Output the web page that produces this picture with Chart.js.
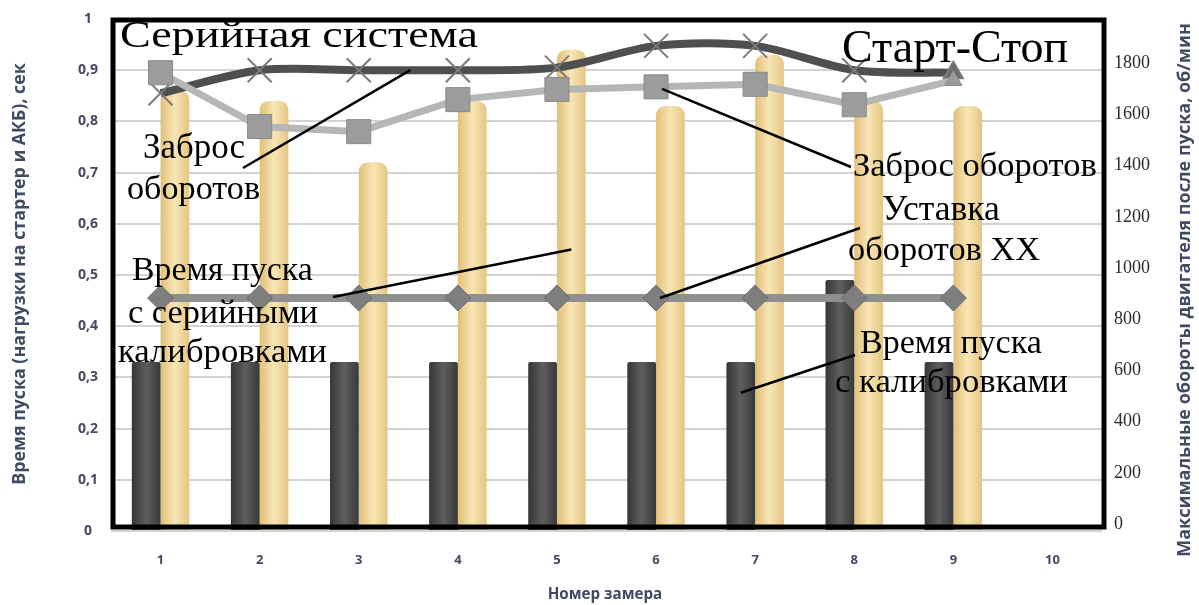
<!DOCTYPE html>
<html>
<head>
<meta charset="utf-8">
<script src="https://cdn.jsdelivr.net/npm/chart.js"></script>
<style>
  html, body { margin: 0; padding: 0; background: #fff; }
  #chart { display: block; }
</style>
</head>
<body>
<canvas id="chart" width="1199" height="605"></canvas>
<script>
// ===== Данные
const categories = ['1', '2', '3', '4', '5', '6', '7', '8', '9', '10'];

// время пуска, с (левая ось)
const timeCalibrated = [0.33, 0.33, 0.33, 0.33, 0.33, 0.33, 0.33, 0.49, 0.33, null];
const timeSerial     = [0.86, 0.84, 0.72, 0.84, 0.94, 0.83, 0.93, 0.84, 0.83, null];

// обороты, об/мин (правая ось)
const revsSerial    = [1710, 1800, 1800, 1800, 1810, 1895, 1895, 1800, 1790, null];
const revsStartStop = [1790, 1580, 1560, 1685, 1725, 1735, 1745, 1665, 1760, null];
const idleSetpoint  = [910, 910, 910, 910, 910, 910, 910, 910, 910, null];

// подписи шкал
const leftTicks       = [0, 0.1, 0.2, 0.3, 0.4, 0.5, 0.6, 0.7, 0.8, 0.9, 1];
const leftTickLabels  = ['0', '0,1', '0,2', '0,3', '0,4', '0,5', '0,6', '0,7', '0,8', '0,9', '1'];
const rightTicks      = [0, 200, 400, 600, 800, 1000, 1200, 1400, 1600, 1800];
const rightTickLabels = ['0', '200', '400', '600', '800', '1000', '1200', '1400', '1600', '1800'];

const CAT_PCT = 0.58;
const SANS  = '"Open Sans", "DejaVu Sans", sans-serif';
const SERIF = '"Liberation Serif", "DejaVu Serif", serif';
const AXIS_TXT = '#404a63';

// градиент по ширине столбца (side -1 = левый столбец пары, +1 = правый)
function barFill(stops, side) {
  return c => {
    const chart = c.chart, x = chart.scales.x;
    if (!x || c.dataIndex === undefined) return stops[1];
    const w = x.width / categories.length * CAT_PCT / 2;
    const cx = x.getPixelForValue(c.dataIndex);
    if (!isFinite(w) || !isFinite(cx) || w <= 0) return stops[1];
    const x0 = side < 0 ? cx - w : cx;
    const g = chart.ctx.createLinearGradient(x0, 0, x0 + w, 0);
    g.addColorStop(0, stops[0]);
    g.addColorStop(0.5, stops[1]);
    g.addColorStop(1, stops[2]);
    return g;
  };
}

// подгоняет кегль под нужную ширину строки
function fitFont(ctx, text, width, weight, family) {
  ctx.font = `${weight} 100px ${family}`;
  const size = 100 * width / ctx.measureText(text).width;
  return `${weight} ${size.toFixed(1)}px ${family}`;
}

// ===== Подписи-выноски поверх графика (size — если текст сжат по высоте)
const notes = [
  { text: 'Серийная система', x: 120, y: 47,  w: 358, size: 38 },
  { text: 'Старт-Стоп',       x: 842, y: 62,  w: 226 },
  { text: 'Заброс',           x: 143, y: 158, w: 102 },
  { text: 'оборотов',         x: 127, y: 199, w: 133 },
  { text: 'Заброс оборотов',  x: 853, y: 176, w: 244 },
  { text: 'Уставка',          x: 882, y: 220, w: 118 },
  { text: 'оборотов XX',      x: 848, y: 260, w: 192 },
  { text: 'Время пуска',      x: 132, y: 280, w: 181 },
  { text: 'с серийными',      x: 128, y: 323, w: 190 },
  { text: 'калибровками',     x: 118, y: 362, w: 209 },
  { text: 'Время пуска',      x: 860, y: 353, w: 182 },
  { text: 'с калибровками',   x: 835, y: 392, w: 233 }
];

const framePlugin = {
  id: 'frame',
  afterDatasetsDraw(chart) {
    const { ctx, chartArea: a } = chart;
    ctx.save();
    ctx.strokeStyle = '#000';
    ctx.lineWidth = 5;
    ctx.strokeRect(a.left + 2, a.top + 1, a.right - a.left, a.bottom - a.top - 5);
    ctx.restore();
  }
};

const notesPlugin = {
  id: 'notes',
  afterDraw(chart) {
    const { ctx, scales } = chart;
    const dark  = chart.getDatasetMeta(0).data;
    const tan   = chart.getDatasetMeta(1).data;
    const lIdle = chart.getDatasetMeta(2).data;
    const lSS   = chart.getDatasetMeta(3).data;
    const lSer  = chart.getDatasetMeta(4).data;

    // выноски
    const t = 0.52;
    const leaders = [
      [243, 168, lSer[2].x + t * (lSer[3].x - lSer[2].x), lSer[2].y + t * (lSer[3].y - lSer[2].y)],
      [851, 167, lSS[5].x + 6, lSS[5].y + 2],
      [860, 228, lIdle[5].x + 4, lIdle[5].y],
      [333, 297, tan[4].x, scales.y.getPixelForValue(0.55)],
      [855, 355, dark[6].x, scales.y.getPixelForValue(0.27)]
    ];
    ctx.save();
    ctx.strokeStyle = '#000';
    ctx.lineWidth = 2.5;
    leaders.forEach(([x1, y1, x2, y2]) => {
      ctx.beginPath();
      ctx.moveTo(x1, y1);
      ctx.lineTo(x2, y2);
      ctx.stroke();
    });

    ctx.fillStyle = '#000';
    ctx.textAlign = 'left';
    ctx.textBaseline = 'alphabetic';
    notes.forEach(n => {
      if (n.size) {
        ctx.font = `normal ${n.size}px ${SERIF}`;
        const k = n.w / ctx.measureText(n.text).width;
        ctx.save();
        ctx.translate(n.x, n.y);
        ctx.scale(k, 1);
        ctx.fillText(n.text, 0, 0);
        ctx.restore();
      } else {
        ctx.font = fitFont(ctx, n.text, n.w, 'normal', SERIF);
        ctx.fillText(n.text, n.x, n.y);
      }
    });

    // заголовки осей
    const axisTitle = (text, cx, cy, w, rot) => {
      ctx.save();
      ctx.translate(cx, cy);
      ctx.rotate(rot);
      ctx.font = fitFont(ctx, text, w, 'bold', SANS);
      ctx.fillStyle = AXIS_TXT;
      ctx.textAlign = 'center';
      ctx.textBaseline = 'middle';
      ctx.fillText(text, 0, 0);
      ctx.restore();
    };
    axisTitle('Время пуска (нагрузки на стартер и АКБ), сек', 20, 274, 422, -Math.PI / 2);
    axisTitle('Максимальные обороты двигателя после пуска, об/мин', 1185, 290, 534, -Math.PI / 2);
    axisTitle('Номер замера', 605, 595, 115, 0);
    ctx.restore();
  }
};

// убирает запас под подписи, чтобы область построения задавалась только layout.padding
const noPad = s => { s.paddingTop = 0; s.paddingBottom = 0; };

new Chart(document.getElementById('chart'), {
  data: {
    labels: categories,
    datasets: [
      {
        type: 'bar',
        label: 'Время пуска с калибровками',
        data: timeCalibrated,
        yAxisID: 'y',
        order: 10,
        backgroundColor: barFill(['#363636', '#5e5e5e', '#383838'], -1),
        borderRadius: 2,
        borderSkipped: 'bottom',
        barPercentage: 1,
        categoryPercentage: CAT_PCT
      },
      {
        type: 'bar',
        label: 'Время пуска с серийными калибровками',
        data: timeSerial,
        yAxisID: 'y',
        order: 10,
        backgroundColor: barFill(['#e2bf78', '#f8e6b6', '#e5c581'], 1),
        borderRadius: { topLeft: 9, topRight: 9, bottomLeft: 0, bottomRight: 0 },
        borderSkipped: 'bottom',
        barPercentage: 1,
        categoryPercentage: CAT_PCT
      },
      {
        type: 'line',
        label: 'Уставка оборотов XX',
        data: idleSetpoint,
        yAxisID: 'yR',
        order: 1,
        borderColor: '#8f8f8f',
        borderWidth: 8,
        pointStyle: 'rectRot',
        pointRadius: 13,
        pointBackgroundColor: '#7e7e7e',
        pointBorderColor: '#6c6c6c',
        pointBorderWidth: 1
      },
      {
        type: 'line',
        label: 'Заброс оборотов (Старт-Стоп)',
        data: revsStartStop,
        yAxisID: 'yR',
        order: 2,
        borderColor: '#b6b6b6',
        borderWidth: 7,
        pointStyle: ['rect', 'rect', 'rect', 'rect', 'rect', 'rect', 'rect', 'rect', 'triangle', 'rect'],
        pointRadius: [17, 17, 17, 17, 17, 17, 17, 17, 10, 17],
        pointBackgroundColor: '#9c9c9c',
        pointBorderColor: '#8a8a8a',
        pointBorderWidth: 1
      },
      {
        type: 'line',
        label: 'Заброс оборотов (серийная система)',
        data: revsSerial,
        yAxisID: 'yR',
        order: 3,
        borderColor: '#4f4f4f',
        borderWidth: 8,
        tension: 0.3,
        pointStyle: ['crossRot', 'crossRot', 'crossRot', 'crossRot', 'crossRot', 'crossRot', 'crossRot', 'crossRot', 'triangle', 'crossRot'],
        pointRadius: [17, 17, 17, 17, 17, 17, 17, 17, 11, 17],
        pointBackgroundColor: '#6a6a6a',
        pointBorderColor: '#7a7a7a',
        pointBorderWidth: 2
      }
    ]
  },
  options: {
    responsive: false,
    animation: false,
    layout: { padding: { top: 16, left: 0, right: 0, bottom: 0 } },
    plugins: {
      legend: { display: false },
      tooltip: { enabled: false }
    },
    scales: {
      x: {
        offset: true,
        grid: { display: false, drawTicks: false },
        border: { display: false },
        ticks: { color: AXIS_TXT, font: { family: SANS, size: 13, weight: 'bold' }, padding: 21 },
        afterFit: s => { s.height = 74; s.paddingLeft = 0; s.paddingRight = 0; }
      },
      y: {
        position: 'left',
        min: 0,
        max: 1,
        afterBuildTicks: s => { s.ticks = leftTicks.map(v => ({ value: v })); },
        grid: { color: '#d3d3d3', lineWidth: 2, drawTicks: false },
        border: { display: false },
        ticks: {
          color: '#4a4560',
          font: { family: SANS, size: 14, weight: 'bold' },
          padding: 13,
          crossAlign: 'center',
          callback: (v, i) => leftTickLabels[i]
        },
        afterFit: s => { s.width = 111; noPad(s); }
      },
      yR: {
        position: 'right',
        min: 0,
        max: 2000,
        afterBuildTicks: s => { s.ticks = rightTicks.map(v => ({ value: v })); },
        grid: { display: false, drawTicks: false },
        border: { display: false },
        ticks: {
          color: '#2a2a2a',
          font: { family: SERIF, size: 18 },
          padding: 12,
          labelOffset: -7,
          callback: (v, i) => rightTickLabels[i]
        },
        afterFit: s => { s.width = 97; noPad(s); }
      }
    }
  },
  plugins: [framePlugin, notesPlugin]
});
</script>
</body>
</html>
